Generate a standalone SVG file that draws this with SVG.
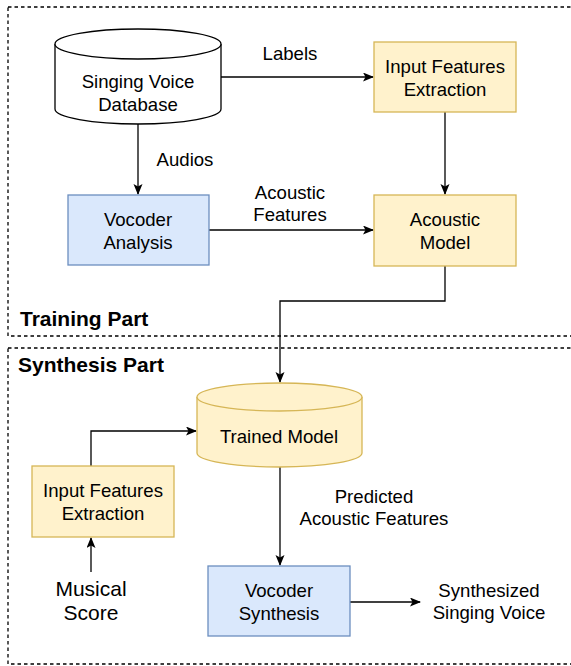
<svg xmlns="http://www.w3.org/2000/svg" width="571" height="666" viewBox="0 0 571 666">
<style>
.t{font-family:"Liberation Sans",Arial,Helvetica,sans-serif;font-size:18.6px;fill:#000;text-anchor:middle}
.b{font-family:"Liberation Sans",Arial,Helvetica,sans-serif;font-size:21px;font-weight:bold;fill:#000}
.big{font-size:21px}
.y{fill:#fff2cc;stroke:#d6b656;stroke-width:1.3}
.bl{fill:#dae8fc;stroke:#6c8ebf;stroke-width:1.3}
.w{fill:#fff;stroke:#000;stroke-width:1.3}
.dash{fill:none;stroke:#000;stroke-width:1.3;stroke-dasharray:3.5,3}
.c{fill:none;stroke:#000;stroke-width:1.3}
</style>
<defs>
<marker id="ar" markerWidth="12" markerHeight="10" refX="10" refY="4.5" orient="auto" markerUnits="userSpaceOnUse">
<path d="M0,0 L11,4.5 L0,9 L2.5,4.5 Z" fill="#000"/>
</marker>
</defs>
<g id="training-part">
<rect class="dash" x="8" y="7" width="570" height="329"/>
<text class="b" x="20" y="326">Training Part</text>
</g>
<g id="synthesis-part">
<rect class="dash" x="8" y="348" width="570" height="316"/>
<text class="b" x="18" y="372">Synthesis Part</text>
</g>
<g id="connectors">
<path class="c" d="M221,77 L373,77" marker-end="url(#ar)"/>
<text class="t" x="290" y="60">Labels</text>
<path class="c" d="M138,124 L138,194" marker-end="url(#ar)"/>
<text class="t" x="185" y="166">Audios</text>
<path class="c" d="M209,230 L373,230" marker-end="url(#ar)"/>
<text class="t" x="290" y="199">Acoustic</text>
<text class="t" x="290" y="221">Features</text>
<path class="c" d="M445,112 L445,194" marker-end="url(#ar)"/>
<path class="c" d="M445,266 L445,301 L280,301 L280,382" marker-end="url(#ar)"/>
<path class="c" d="M91,466 L91,431 L196,431" marker-end="url(#ar)"/>
<path class="c" d="M91,572 L91,538" marker-end="url(#ar)"/>
<path class="c" d="M280,467 L280,565" marker-end="url(#ar)"/>
<text class="t" x="374" y="503">Predicted</text>
<text class="t" x="374" y="525">Acoustic Features</text>
<path class="c" d="M350,602 L420,602" marker-end="url(#ar)"/>
</g>
<g id="singing-voice-database">
<path class="w" d="M55,44 A83,15 0 0 1 221,44 L221,109 A83,15 0 0 1 55,109 Z"/>
<path class="w" fill="none" d="M55,44 A83,15 0 0 0 221,44"/>
<text class="t" x="138" y="88">Singing Voice</text>
<text class="t" x="138" y="111">Database</text>
</g>
<g id="input-features-extraction-1">
<rect class="y" x="374" y="42" width="142" height="70"/>
<text class="t" x="445" y="73">Input Features</text>
<text class="t" x="445" y="96">Extraction</text>
</g>
<g id="vocoder-analysis">
<rect class="bl" x="68" y="195" width="141" height="70"/>
<text class="t" x="138" y="226">Vocoder</text>
<text class="t" x="138" y="249">Analysis</text>
</g>
<g id="acoustic-model">
<rect class="y" x="374" y="195" width="142" height="71"/>
<text class="t" x="445" y="226">Acoustic</text>
<text class="t" x="445" y="249">Model</text>
</g>
<g id="trained-model">
<path class="y" d="M197,397 A82.5,14 0 0 1 362,397 L362,453 A82.5,14 0 0 1 197,453 Z"/>
<path class="y" fill="none" d="M197,397 A82.5,14 0 0 0 362,397"/>
<text class="t" x="279" y="443">Trained Model</text>
</g>
<g id="input-features-extraction-2">
<rect class="y" x="32" y="466" width="142" height="71"/>
<text class="t" x="103" y="497">Input Features</text>
<text class="t" x="103" y="520">Extraction</text>
</g>
<g id="musical-score">
<text class="t big" x="91" y="596">Musical</text>
<text class="t big" x="91" y="620">Score</text>
</g>
<g id="vocoder-synthesis">
<rect class="bl" x="208" y="566" width="142" height="70"/>
<text class="t" x="279" y="597">Vocoder</text>
<text class="t" x="279" y="620">Synthesis</text>
</g>
<g id="synthesized-singing-voice">
<text class="t" x="489" y="597">Synthesized</text>
<text class="t" x="489" y="619">Singing Voice</text>
</g>
</svg>
